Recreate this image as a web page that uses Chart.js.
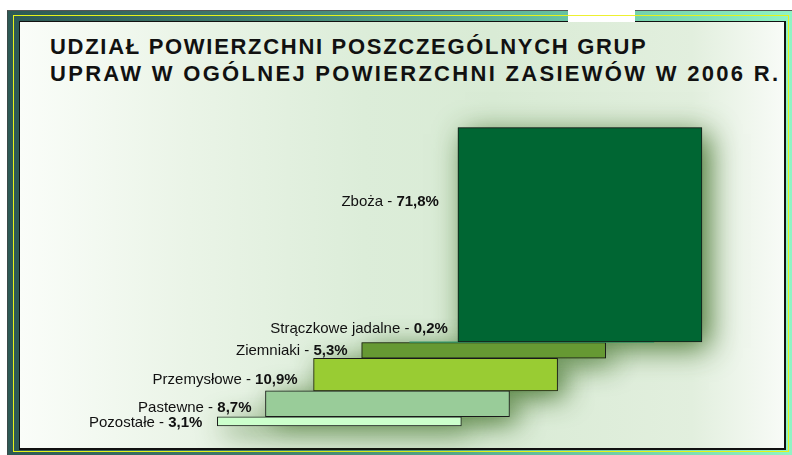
<!DOCTYPE html>
<html>
<head>
<meta charset="utf-8">
<script src="https://cdn.jsdelivr.net/npm/chart.js@4"></script>
<style>
    body { margin: 0; width: 792px; height: 455px; background: #ffffff; position: relative; overflow: hidden; font-family: "Liberation Sans", Arial, sans-serif; }
    .frame { position: absolute; left: 7px; top: 10px; width: 785px; height: 445px; box-sizing: border-box;
        border-top: 1px solid #555; border-left: 1px solid #3a4a48;
        background: linear-gradient(to right, #2d5955 0%, #3f7a6e 30%, #5fb89a 65%, #8ff4c4 100%); }
    .yellow { position: absolute; left: 13px; top: 15px; width: 776px; height: 437px; box-sizing: border-box; border: 1px solid #e6f21a; }
    .gap { position: absolute; left: 568px; top: 9px; width: 67px; height: 13px; background: #ffffff; }
    .gapline { position: absolute; left: 568px; top: 15px; width: 67px; height: 1px; background: #eef030; }
    .panel { position: absolute; left: 19px; top: 21px; width: 767px; height: 429px; box-sizing: border-box;
        border: 1px solid #111; border-right-width: 2px; border-bottom-width: 2px;
        background: linear-gradient(to right, #fafdf9 0%, #eaf4e7 22%, #dcedd9 45%, #d9ebd5 62%, #e2efde 88%, #f8fbf7 100%); }
    .title { position: absolute; left: 50px; font-weight: bold; font-size: 22px; color: #111; white-space: nowrap; line-height: 1; }
    #t1 { top: 36px; letter-spacing: 1.7px; }
    #t2 { top: 63px; letter-spacing: 2.3px; }
    canvas { position: absolute; left: 0; top: 0; }
</style>
</head>
<body>
<div class="frame"></div>
<div class="yellow"></div>
<div class="panel"></div>
<div class="gap"></div>
<div class="gapline"></div>
<div class="title" id="t1">UDZIAŁ POWIERZCHNI POSZCZEGÓLNYCH GRUP</div>
<div class="title" id="t2">UPRAW W OGÓLNEJ POWIERZCHNI ZASIEWÓW W 2006 R.</div>
<canvas id="chart" width="792" height="455"></canvas>
<script>
// crop groups, bottom of the stack first
const categories = ["Pozostałe", "Pastewne", "Przemysłowe", "Ziemniaki", "Strączkowe jadalne", "Zboża"];
const shares = [3.1, 8.7, 10.9, 5.3, 0.2, 71.8];
const barColors = ["#ccffcc", "#99cc99", "#99cc33", "#669933", "#339966", "#006633"];

// label nudges relative to the bar's left edge / middle
const labelDx = [-15, -14, -16, -14, 38, -19];
const labelDy = [1, 4, 5, 0, -13, -33];

// floating ranges for the stacked look
const ranges = [];
let acc = 0;
for (const v of shares) {
    ranges.push([acc, acc + v]);
    acc += v;
}

const fmt = (v) => v.toFixed(1).replace(".", ",") + "%";

const glowPlugin = {
    id: "glow",
    beforeDatasetsDraw(chart) {
        const ctx = chart.ctx;
        const meta = chart.getDatasetMeta(0);
        ctx.save();
        ctx.shadowColor = "rgba(55, 105, 30, 0.9)";
        ctx.shadowBlur = 28;
        ctx.shadowOffsetX = 7;
        ctx.shadowOffsetY = 6;
        meta.data.forEach((bar, i) => {
            const h = Math.abs(bar.base - bar.y);
            if (h < 2) return;
            ctx.fillStyle = barColors[i];
            ctx.fillRect(bar.x - bar.width / 2, Math.min(bar.y, bar.base), bar.width, h);
        });
        ctx.restore();
    },
};

const labelPlugin = {
    id: "barLabels",
    afterDatasetsDraw(chart) {
        const ctx = chart.ctx;
        const meta = chart.getDatasetMeta(0);
        ctx.save();
        ctx.fillStyle = "#111111";
        ctx.textBaseline = "middle";
        ctx.textAlign = "right";
        meta.data.forEach((bar, i) => {
            const right = bar.x - bar.width / 2 + labelDx[i];
            const y = (bar.y + bar.base) / 2 + labelDy[i];
            ctx.font = "bold 15px 'Liberation Sans', Arial, sans-serif";
            const val = fmt(shares[i]);
            ctx.fillText(val, right, y);
            const w = ctx.measureText(val).width;
            ctx.font = "15px 'Liberation Sans', Arial, sans-serif";
            ctx.fillText(categories[i] + " - ", right - w, y);
        });
        ctx.restore();
    },
};

new Chart(document.getElementById("chart").getContext("2d"), {
    type: "bar",
    data: {
        labels: categories,
        datasets: [
            {
                data: ranges,
                backgroundColor: barColors,
                borderColor: "#1a1a1a",
                borderWidth: [1, 1, 1, 1, 0, 1],
                borderSkipped: false,
                barThickness: 244,
                clip: false,
            },
        ],
    },
    options: {
        responsive: false,
        animation: false,
        devicePixelRatio: 1,
        layout: { padding: { left: 315.3, right: 188, top: 127.7, bottom: 29 } },
        plugins: { legend: { display: false }, tooltip: { enabled: false } },
        scales: {
            x: { display: false },
            y: { display: false, min: 0, max: 100 },
        },
    },
    plugins: [glowPlugin, labelPlugin],
});
</script>
</body>
</html>
